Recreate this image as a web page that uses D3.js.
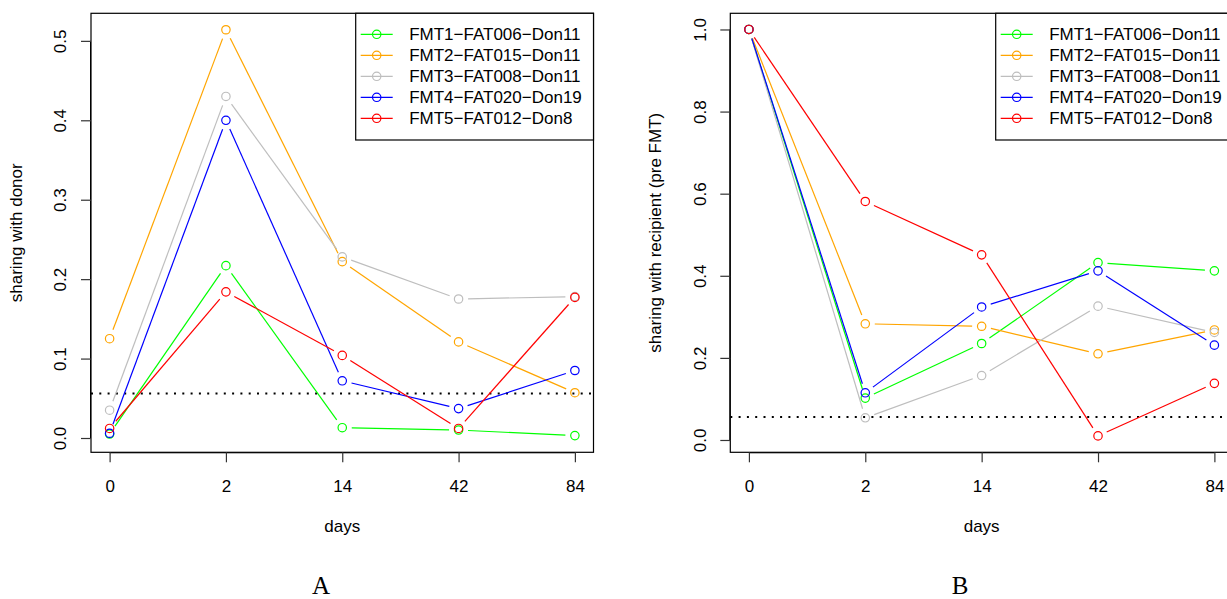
<!DOCTYPE html>
<html>
<head>
<meta charset="utf-8">
<script src="https://cdn.jsdelivr.net/npm/d3@7"></script>
<style>
  html, body { margin: 0; padding: 0; background: #fff; }
  svg { display: block; }
  text { font-family: "Liberation Sans", Arial, Helvetica, sans-serif; fill: #000; }
</style>
</head>
<body>
<svg id="chart" width="1227" height="599"></svg>
<script>
// ---------- data ----------
const days = ["0", "2", "14", "42", "84"];
const seriesNames = ["FMT1\u2212FAT006\u2212Don11", "FMT2\u2212FAT015\u2212Don11", "FMT3\u2212FAT008\u2212Don11", "FMT4\u2212FAT020\u2212Don19", "FMT5\u2212FAT012\u2212Don8"];
const seriesColors = ["#00FF00", "#FFA500", "#BEBEBE", "#0000FF", "#FF0000"];

// Panel A: sharing with donor
const donorFMT1 = [0.005, 0.217, 0.013, 0.010, 0.003];
const donorFMT2 = [0.125, 0.514, 0.222, 0.121, 0.057];
const donorFMT3 = [0.035, 0.430, 0.228, 0.175, 0.178];
const donorFMT4 = [0.006, 0.400, 0.072, 0.037, 0.085];
const donorFMT5 = [0.012, 0.184, 0.104, 0.012, 0.177];
const donorTicks = [0.0, 0.1, 0.2, 0.3, 0.4, 0.5];
const donorThreshold = 0.056;

// Panel B: sharing with recipient (pre FMT)
const recipFMT1 = [1.0, 0.102, 0.235, 0.432, 0.412];
const recipFMT2 = [1.0, 0.283, 0.277, 0.210, 0.268];
const recipFMT3 = [1.0, 0.054, 0.157, 0.326, 0.262];
const recipFMT4 = [1.0, 0.115, 0.324, 0.412, 0.231];
const recipFMT5 = [1.0, 0.581, 0.451, 0.010, 0.138];
const recipTicks = [0.0, 0.2, 0.4, 0.6, 0.8, 1.0];
const recipThreshold = 0.056;

// ---------- drawing ----------
const svg = d3.select("#chart");
const FONT = 17;

function drawPanel(opt) {
  const g = svg.append("g");
  const x = d3.scaleLinear().domain([0.84, 5.16]).range([opt.left, opt.right]);
  const y = d3.scaleLinear().domain(opt.yDomain).range([opt.bottom, opt.top]);
  const idx = days.map((d, i) => i + 1);

  // threshold dotted line
  g.append("line")
    .attr("x1", opt.left).attr("x2", opt.right)
    .attr("y1", y(opt.threshold)).attr("y2", y(opt.threshold))
    .attr("stroke", "#000").attr("stroke-width", 2)
    .attr("stroke-dasharray", "2,6.3");

  // series (type = "b": lines with gaps around points)
  const gap = 9.5;
  opt.series.forEach((vals, s) => {
    const pts = vals.map((v, i) => [x(idx[i]), y(v)]);
    for (let i = 0; i < pts.length - 1; i++) {
      const [x0, y0] = pts[i], [x1, y1] = pts[i + 1];
      const len = Math.hypot(x1 - x0, y1 - y0);
      if (len <= 2 * gap) continue;
      const ux = (x1 - x0) / len, uy = (y1 - y0) / len;
      g.append("line")
        .attr("x1", x0 + ux * gap).attr("y1", y0 + uy * gap)
        .attr("x2", x1 - ux * gap).attr("y2", y1 - uy * gap)
        .attr("stroke", seriesColors[s]).attr("stroke-width", 1.2);
    }
    g.selectAll(null).data(pts).enter().append("circle")
      .attr("cx", d => d[0]).attr("cy", d => d[1]).attr("r", 4.2)
      .attr("fill", "none").attr("stroke", seriesColors[s]).attr("stroke-width", 1.2);
  });

  // box
  g.append("rect")
    .attr("x", opt.left).attr("y", opt.top)
    .attr("width", opt.right - opt.left).attr("height", opt.bottom - opt.top)
    .attr("fill", "none").attr("stroke", "#000").attr("stroke-width", 1.2);

  // x axis
  const xAxis = d3.axisBottom(x).tickValues(idx).tickFormat((d, i) => days[i])
    .tickSizeInner(10).tickSizeOuter(0).tickPadding(0);
  const xa = g.append("g").attr("transform", `translate(0,${opt.bottom})`).call(xAxis);
  xa.select(".domain").attr("d", `M${x(1)},0.5H${x(5)}`).attr("stroke", "#000");
  xa.selectAll(".tick line").attr("stroke", "#333").attr("stroke-width", 1.2);
  xa.selectAll(".tick text").attr("y", 39.5).attr("dy", null)
    .style("font-size", FONT + "px").style("font-family", "Liberation Sans, Arial, sans-serif").attr("fill", "#000");

  // y axis
  const yAxis = d3.axisLeft(y).tickValues(opt.ticks).tickFormat(d3.format(".1f"))
    .tickSizeInner(10).tickSizeOuter(0).tickPadding(0);
  const ya = g.append("g").attr("transform", `translate(${opt.left},0)`).call(yAxis);
  ya.select(".domain").attr("d", `M-0.5,${y(opt.ticks[0])}V${y(opt.ticks[opt.ticks.length - 1])}`).attr("stroke", "#000");
  ya.selectAll(".tick line").attr("stroke", "#333").attr("stroke-width", 1.2);
  ya.selectAll(".tick text")
    .attr("x", null).attr("dy", null)
    .attr("text-anchor", "middle")
    .attr("transform", `translate(${-(opt.left - opt.tickLabelX)},0) rotate(-90)`)
    .style("font-size", FONT + "px").style("font-family", "Liberation Sans, Arial, sans-serif").attr("fill", "#000");

  // axis titles
  g.append("text")
    .attr("x", (opt.left + opt.right) / 2).attr("y", 532)
    .attr("text-anchor", "middle").style("font-size", FONT + "px").text("days");
  g.append("text")
    .attr("transform", `translate(${opt.yLabelX},${(opt.top + opt.bottom) / 2}) rotate(-90)`)
    .attr("text-anchor", "middle").style("font-size", FONT + "px").text(opt.yLabel);

  // legend
  const lg = g.append("g");
  lg.append("rect")
    .attr("x", opt.legendLeft).attr("y", opt.top)
    .attr("width", opt.legendRight - opt.legendLeft).attr("height", 126.7)
    .attr("fill", "#fff").attr("stroke", "#000").attr("stroke-width", 1.2);
  seriesNames.forEach((name, s) => {
    const cy = opt.top + 21 + s * 21;
    lg.append("line")
      .attr("x1", opt.legendLeft + 5).attr("x2", opt.legendLeft + 37)
      .attr("y1", cy).attr("y2", cy)
      .attr("stroke", seriesColors[s]).attr("stroke-width", 1.2);
    lg.append("circle")
      .attr("cx", opt.legendLeft + 21).attr("cy", cy).attr("r", 4.2)
      .attr("fill", "none").attr("stroke", seriesColors[s]).attr("stroke-width", 1.2);
    lg.append("text")
      .attr("x", opt.legendLeft + 53.5).attr("y", cy + 6)
      .style("font-size", FONT + "px").text(name);
  });

  // panel letter
  g.append("text")
    .attr("x", opt.letterX).attr("y", 594)
    .attr("text-anchor", "middle")
    .style("font-family", "'Liberation Serif', 'DejaVu Serif', serif")
    .style("font-size", "25px").text(opt.letter);
}

drawPanel({
  left: 91, right: 593.5, top: 13.3, bottom: 452.3,
  yDomain: [-0.018, 0.5347],
  ticks: donorTicks, threshold: donorThreshold,
  series: [donorFMT1, donorFMT2, donorFMT3, donorFMT4, donorFMT5],
  tickLabelX: 66, yLabelX: 22, yLabel: "sharing with donor",
  legendLeft: 355.7, legendRight: 593.5,
  letter: "A", letterX: 321
});

drawPanel({
  left: 730.3, right: 1233, top: 13.3, bottom: 452.3,
  yDomain: [-0.030, 1.0394],
  ticks: recipTicks, threshold: recipThreshold,
  series: [recipFMT1, recipFMT2, recipFMT3, recipFMT4, recipFMT5],
  tickLabelX: 706, yLabelX: 661, yLabel: "sharing with recipient (pre FMT)",
  legendLeft: 995.7, legendRight: 1240,
  letter: "B", letterX: 960
});
</script>
</body>
</html>
